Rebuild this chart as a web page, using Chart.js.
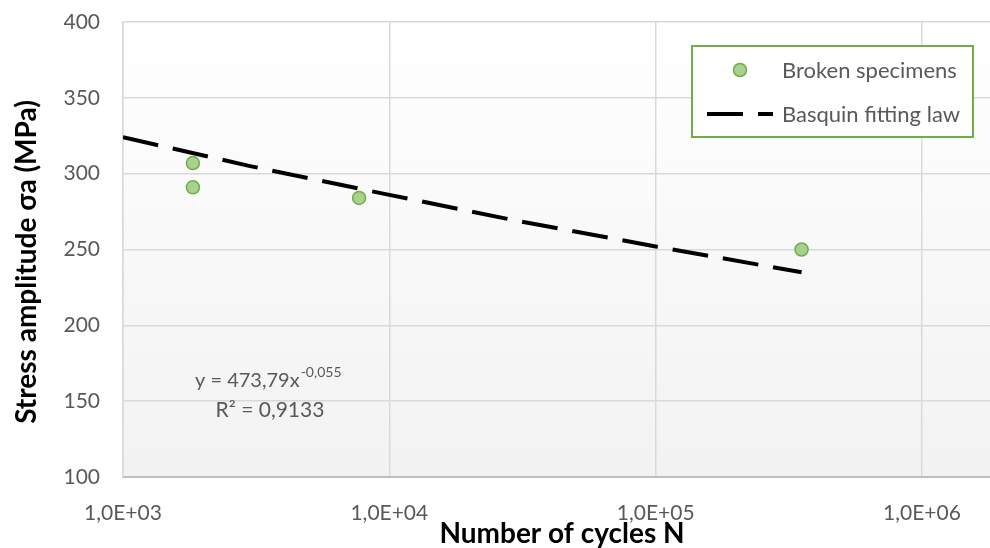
<!DOCTYPE html>
<html>
<head>
<meta charset="utf-8">
<script src="https://cdn.jsdelivr.net/npm/chart.js@4/dist/chart.umd.min.js"></script>
<style>
  html, body { margin: 0; padding: 0; background: #fff; }
  #wrap { width: 990px; height: 548px; }
</style>
</head>
<body>
<div id="wrap"><canvas id="snChart" width="990" height="548"></canvas></div>
<script>
// Broken specimens: number of cycles / stress amplitude (MPa)
const cycles = [1830, 1830, 7700, 353000];
const stress = [307, 291, 284, 250];

// Basquin fitting law
const fitCycles = [1000, 3000, 10000, 30000, 100000, 353000];
const fitStress = [324, 305, 286, 269, 252, 235];

const xTicks = [1e3, 1e4, 1e5, 1e6];
const yTicks = [100, 150, 200, 250, 300, 350, 400];
const seriesNames = ['Broken specimens', 'Basquin fitting law'];

const FONT = 'Lato, "Open Sans", sans-serif';
const GREY_TEXT = '#595959';

function sciLabel(v) {
    const exp = Math.round(Math.log10(v));
    const mant = (v / Math.pow(10, exp)).toFixed(1).replace('.', ',');
    return mant + 'E+' + String(exp).padStart(2, '0');
}

// plot area background (white -> light grey)
const plotBackground = {
    id: 'plotBackground',
    beforeDraw(chart) {
        const { ctx, chartArea: a } = chart;
        const g = ctx.createLinearGradient(0, a.top, 0, a.bottom);
        g.addColorStop(0, '#ffffff');
        g.addColorStop(1, '#f2f2f2');
        ctx.save();
        ctx.fillStyle = g;
        ctx.fillRect(a.left, a.top, a.right - a.left, a.bottom - a.top);
        ctx.restore();
    }
};

// axis titles, equation text and legend box
const overlays = {
    id: 'overlays',
    afterDraw(chart) {
        const ctx = chart.ctx;
        ctx.save();

        // axis titles
        ctx.fillStyle = '#000';
        ctx.font = 'bold 28px ' + FONT;
        ctx.textAlign = 'center';
        ctx.textBaseline = 'middle';
        ctx.fillText('Number of cycles N', 562, 534);
        ctx.save();
        ctx.translate(27, 262);
        ctx.rotate(-Math.PI / 2);
        ctx.fillText('Stress amplitude σa (MPa)', 0, 0);
        ctx.restore();

        // trend equation
        ctx.fillStyle = GREY_TEXT;
        ctx.textBaseline = 'alphabetic';
        ctx.textAlign = 'left';
        ctx.font = '20px ' + FONT;
        const base = 'y = 473,79x';
        ctx.fillText(base, 195, 387);
        const w = ctx.measureText(base).width;
        ctx.font = '14px ' + FONT;
        ctx.fillText('-0,055', 195 + w + 1, 377);
        ctx.font = '21px ' + FONT;
        ctx.textAlign = 'center';
        ctx.fillText('R² = 0,9133', 270, 417);

        // legend
        ctx.fillStyle = '#fff';
        ctx.fillRect(692, 46, 281, 91);
        ctx.strokeStyle = '#70ad47';
        ctx.lineWidth = 2;
        ctx.strokeRect(692, 46, 281, 91);

        ctx.beginPath();
        ctx.arc(740, 70, 6.5, 0, Math.PI * 2);
        ctx.fillStyle = '#a9d18e';
        ctx.fill();
        ctx.lineWidth = 1.5;
        ctx.strokeStyle = '#70ad47';
        ctx.stroke();

        ctx.beginPath();
        ctx.setLineDash([36, 15]);
        ctx.lineWidth = 4;
        ctx.strokeStyle = '#000';
        ctx.moveTo(707, 114);
        ctx.lineTo(773, 114);
        ctx.stroke();
        ctx.setLineDash([]);

        ctx.fillStyle = GREY_TEXT;
        ctx.font = '22px ' + FONT;
        ctx.textAlign = 'left';
        ctx.textBaseline = 'middle';
        ctx.fillText(seriesNames[0], 782, 71);
        ctx.fillText(seriesNames[1], 782, 115);

        ctx.restore();
    }
};

new Chart(document.getElementById('snChart').getContext('2d'), {
    type: 'scatter',
    data: {
        datasets: [{
            label: seriesNames[0],
            data: cycles.map((c, i) => ({ x: c, y: stress[i] })),
            backgroundColor: '#a9d18e',
            borderColor: '#70ad47',
            borderWidth: 1.5,
            pointRadius: 6.5,
            order: 1
        }, {
            label: seriesNames[1],
            type: 'line',
            data: fitCycles.map((c, i) => ({ x: c, y: fitStress[i] })),
            borderColor: '#000',
            borderWidth: 4,
            borderDash: [36, 15],
            pointRadius: 0,
            fill: false,
            tension: 0,
            order: 2
        }]
    },
    options: {
        responsive: false,
        animation: false,
        devicePixelRatio: 1,
        layout: { autoPadding: false, padding: { top: 22, right: 0, left: 0, bottom: 0 } },
        plugins: {
            legend: { display: false },
            tooltip: { enabled: false }
        },
        scales: {
            x: {
                type: 'logarithmic',
                min: 1000,
                max: 1.8e6,
                afterBuildTicks(scale) {
                    scale.ticks = xTicks.map(v => ({ value: v }));
                },
                afterFit(scale) { scale.height = 71; },
                ticks: {
                    autoSkip: false,
                    maxRotation: 0,
                    padding: 0,
                    color: GREY_TEXT,
                    font: { family: FONT, size: 21 },
                    callback: v => sciLabel(v)
                },
                grid: { color: '#d9d9d9', lineWidth: 1.5, drawTicks: true, tickLength: 24, tickColor: 'rgba(0,0,0,0)' },
                border: { color: '#bfbfbf', width: 2 }
            },
            y: {
                min: 100,
                max: 400,
                afterBuildTicks(scale) {
                    scale.ticks = yTicks.map(v => ({ value: v }));
                },
                afterFit(scale) { scale.width = 123; },
                ticks: {
                    padding: 0,
                    color: GREY_TEXT,
                    font: { family: FONT, size: 21 }
                },
                grid: { color: '#d9d9d9', lineWidth: 1.5, drawTicks: true, tickLength: 23, tickColor: 'rgba(0,0,0,0)' },
                border: { color: '#d9d9d9', width: 1.5 }
            }
        }
    },
    plugins: [plotBackground, overlays]
});
</script>
</body>
</html>
